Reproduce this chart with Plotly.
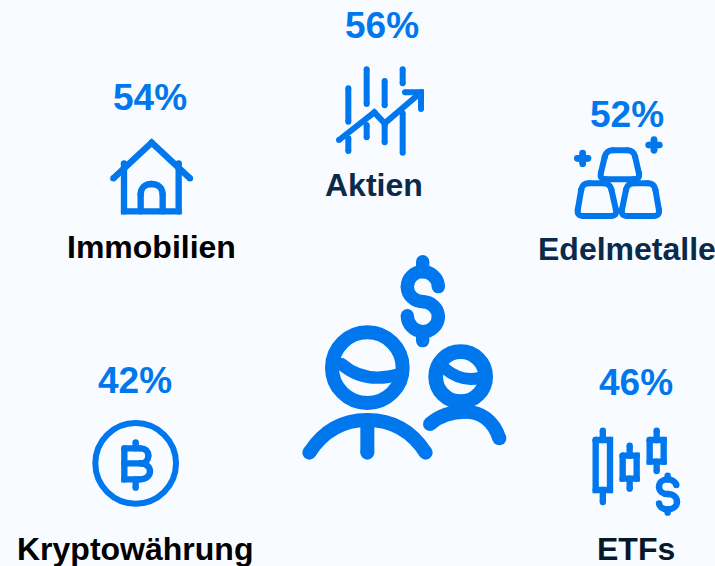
import re
import plotly.graph_objects as go

categories = ["Immobilien", "Aktien", "Edelmetalle", "Kryptowährung", "ETFs"]
shares = [54, 56, 52, 42, 46]

value_pos = [(150, 97), (382, 25), (627, 114), (135, 380), (636, 382)]
label_pos = [(151.5, 247), (373.5, 185), (626.5, 249), (135, 549), (636, 549)]
label_colors = ["#000000", "#0B2A4A", "#0B2A4A", "#000000", "#06182B"]

BLUE = "#0077ED"
BG = "#F8FBFF"
W, H = 715, 566
shapes = []


def stroke(origin, d, width):
    """Stroke a path given in 3x crop coordinates, with round caps and joins."""
    ox, oy = origin
    parts = re.findall(r"([MLCQ])([^MLCQ]*)", d)
    out = []
    r = width / 3 / 2
    for cmd, nums in parts:
        v = [float(n) for n in nums.split()]
        pts = [(ox + v[i] / 3, oy + v[i + 1] / 3) for i in range(0, len(v), 2)]
        out.append(cmd + " " + " ".join(f"{x:.2f} {y:.2f}" for x, y in pts))
        ax, ay = pts[-1]
        shapes.append(dict(type="circle", x0=ax - r, x1=ax + r, y0=ay - r, y1=ay + r,
                           fillcolor=BLUE, line=dict(width=0), xref="x", yref="y"))
    shapes.append(dict(type="path", path=" ".join(out), xref="x", yref="y",
                       line=dict(color=BLUE, width=width / 3), fillcolor="rgba(0,0,0,0)"))


def ring(origin, cx, cy, radius, width):
    ox, oy = origin
    x, y, r = ox + cx / 3, oy + cy / 3, radius / 3
    shapes.append(dict(type="circle", x0=x - r, x1=x + r, y0=y - r, y1=y + r, xref="x", yref="y",
                       line=dict(color=BLUE, width=width / 3), fillcolor="rgba(0,0,0,0)"))


def rounded(origin, pts, radius, width):
    n = len(pts)
    d = ""
    for i, (x, y) in enumerate(pts):
        px, py = pts[i - 1]
        nx, ny = pts[(i + 1) % n]
        l1 = ((px - x) ** 2 + (py - y) ** 2) ** 0.5
        l2 = ((nx - x) ** 2 + (ny - y) ** 2) ** 0.5
        a = (x + (px - x) * radius / l1, y + (py - y) * radius / l1)
        b = (x + (nx - x) * radius / l2, y + (ny - y) * radius / l2)
        d += f"{'M' if i == 0 else 'L'}{a[0]} {a[1]} Q{x} {y} {b[0]} {b[1]} "
    last = pts[-1]
    first = pts[0]
    ln = ((last[0] - first[0]) ** 2 + (last[1] - first[1]) ** 2) ** 0.5
    d += f"L{first[0] + (last[0] - first[0]) * radius / ln} {first[1] + (last[1] - first[1]) * radius / ln}"
    stroke(origin, d, width)


# House
o = (90, 0)
stroke(o, "M70 535 L185 428 L300 535", 19)
stroke(o, "M102 490 L102 634 L266 634 L266 490", 19)
stroke(o, "M152 634 L152 583 C152 562 166 552 184 552 C202 552 218 562 218 583 L218 634", 19)

# Stock chart
for x, y0, y1 in [(775, 265, 365), (775, 415, 453), (830, 208, 312), (830, 375, 412),
                  (884, 243, 316), (884, 375, 427), (938, 208, 250), (938, 340, 458)]:
    stroke(o, f"M{x} {y0} L{x} {y1}", 18)
stroke(o, "M747 420 L853 337 L884 370 L993 277", 18)
stroke(o, "M945 277 L993 277 L993 327", 18)

# Gold bars
o = (540, 90)
rounded(o, [(199, 181), (281, 181), (301, 268), (178, 268)], 20, 18)
rounded(o, [(127, 280), (210, 280), (232, 378), (110, 378)], 20, 18)
rounded(o, [(262, 280), (343, 280), (360, 378), (242, 378)], 20, 18)
stroke(o, "M112 205 L144 205 M128 189 L128 221", 20)
stroke(o, "M326 165 L358 165 M342 149 L342 181", 20)

# People and dollar
o = (290, 250)
ring(o, 232, 353, 106, 42)
stroke(o, "M154 342 Q225 404 330 372", 37)
stroke(o, "M58 608 C105 535 170 510 232 510 C295 510 360 535 407 608", 42)
stroke(o, "M232 515 L232 608", 42)
ring(o, 512, 380, 75, 44)
stroke(o, "M462 354 Q515 398 570 383", 36)
stroke(o, "M420 522 C450 495 490 485 525 485 C570 485 610 510 628 565", 42)
stroke(o, "M445 110 C445 85 423 65 398 65 C373 65 352 85 352 110 C352 135 373 155 398 155 "
          "C423 155 445 175 445 200 C445 225 423 245 398 245 C373 245 352 222 352 197", 40)
stroke(o, "M398 35 L398 65 M398 245 L398 272", 40)

# Bitcoin
o = (80, 410)
ring(o, 167, 160, 121, 18)
stroke(o, "M133 115 L180 115 C198 115 205 125 205 137 C205 150 197 160 182 160 L133 160", 19)
stroke(o, "M182 160 C200 160 210 172 210 184 C210 198 198 208 180 208 L133 208 L133 115", 19)
stroke(o, "M167 97 L167 115 M167 208 L167 233", 19)

# ETF candles
o = (580, 420)
for x0, x1, y0, y1, top, bottom in [(47, 90, 60, 210, 32, 246), (128, 170, 107, 176, 77, 206),
                                    (209, 251, 60, 125, 32, 153)]:
    xm = (x0 + x1) / 2
    stroke(o, f"M{x0} {y0} L{x1} {y0} L{x1} {y1} L{x0} {y1} L{x0} {y0}", 19)
    stroke(o, f"M{xm} {top} L{xm} {y0} M{xm} {y1} L{xm} {bottom}", 19)
stroke(o, "M289 195 C285 185 275 178 263 178 C248 178 237 187 237 200 C237 213 248 222 263 222 "
          "C280 222 291 232 291 245 C291 258 280 268 263 268 C248 268 238 260 237 250", 19)
stroke(o, "M263 167 L263 178 M263 268 L263 278", 19)

annotations = []
for cat, val, vp, lp, col in zip(categories, shares, value_pos, label_pos, label_colors):
    annotations.append(dict(x=vp[0], y=vp[1], text=f"{val}%", showarrow=False, xref="x", yref="y",
                            xanchor="center", yanchor="middle",
                            font=dict(family="Liberation Sans", size=37, color=BLUE, weight="bold")))
    annotations.append(dict(x=lp[0], y=lp[1], text=cat, showarrow=False, xref="x", yref="y",
                            xanchor="center", yanchor="middle",
                            font=dict(family="Liberation Sans", size=32, color=col, weight="bold")))

fig = go.Figure()
fig.update_layout(
    width=W, height=H, margin=dict(l=0, r=0, t=0, b=0),
    paper_bgcolor=BG, plot_bgcolor=BG, showlegend=False,
    xaxis=dict(range=[0, W], visible=False, fixedrange=True),
    yaxis=dict(range=[H, 0], visible=False, fixedrange=True),
    shapes=shapes, annotations=annotations,
)
fig.write_html("out.html", config=dict(displayModeBar=False),
               post_script="document.body.style.margin='0';document.body.style.overflow='hidden';")
